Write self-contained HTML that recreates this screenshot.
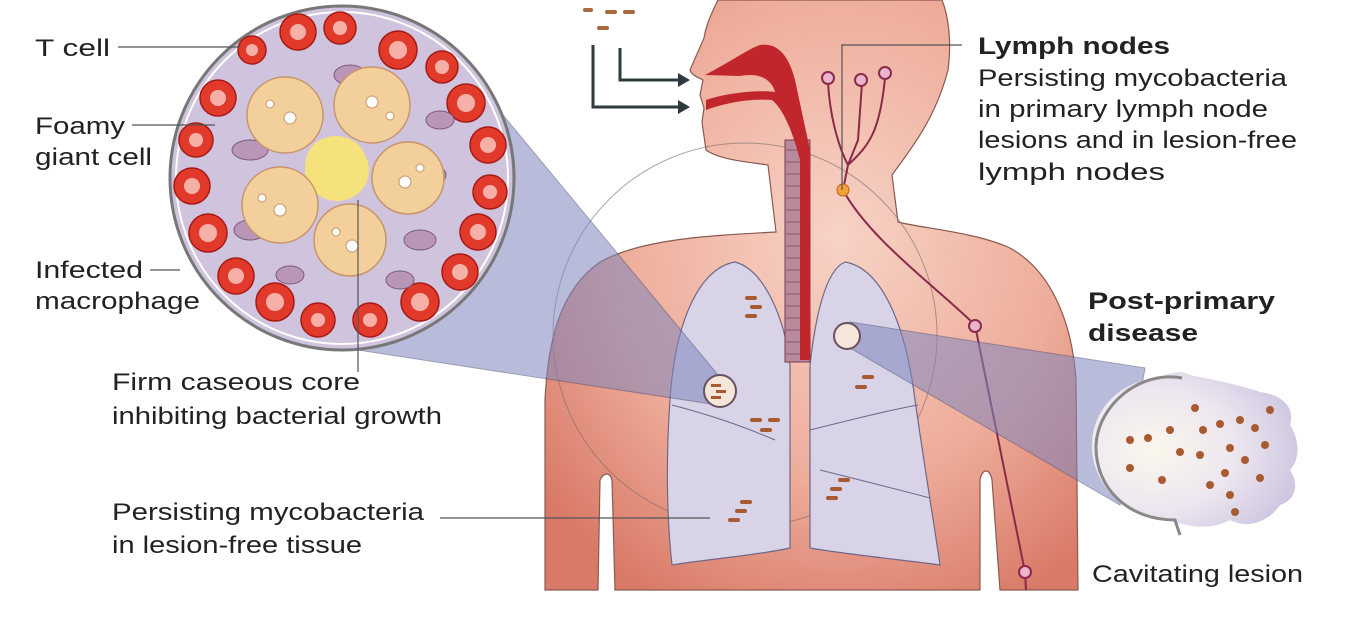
<!DOCTYPE html>
<html><head><meta charset="utf-8"><style>html,body{margin:0;padding:0;background:#fff}svg{display:block}text{font-family:"Liberation Sans",sans-serif;fill:#222}</style></head><body>
<svg width="1366" height="620" viewBox="0 0 1366 620" xmlns="http://www.w3.org/2000/svg">
<defs>
<radialGradient id="skin" cx="0.55" cy="0.4" r="0.7"><stop offset="0" stop-color="#f7d3c6"/><stop offset="0.6" stop-color="#eeac9a"/><stop offset="1" stop-color="#d97a68"/></radialGradient>
<radialGradient id="les" cx="0.3" cy="0.5" r="0.8"><stop offset="0" stop-color="#fbf7ec"/><stop offset="0.5" stop-color="#ece6f0"/><stop offset="1" stop-color="#c8bfdc"/></radialGradient>
</defs>
<path d="M718,0 C712,12 706,25 704,38 L690,70 C692,76 700,78 703,80 L700,95 L704,108 L702,122 L706,150 C720,160 748,162 768,165 L776,232 C700,236 640,240 600,262 C560,290 548,340 545,400 L545,590 L598,590 L600,480 C604,472 610,472 612,480 L615,590 L980,590 L980,480 C982,468 990,468 992,480 L1000,590 L1078,590 L1076,380 C1072,320 1050,270 1010,248 C975,232 920,228 898,222 L892,175 C910,150 935,120 948,70 C952,40 948,15 942,0 Z" fill="url(#skin)" stroke="#8a5a50" stroke-width="1.2"/>
<circle cx="745" cy="335" r="192" fill="none" stroke="#7a6a6a" stroke-width="1" opacity="0.6"/>
<path d="M735,262 C700,268 675,320 670,400 C665,470 668,530 672,565 C700,560 760,555 790,548 L790,365 C785,320 765,270 735,262 Z" fill="#d9d3e8" stroke="#6f6888" stroke-width="1.2"/>
<path d="M845,262 C880,268 905,320 915,400 C925,470 935,530 940,565 C905,560 850,555 810,548 L810,365 C815,320 825,270 845,262 Z" fill="#d9d3e8" stroke="#6f6888" stroke-width="1.2"/>
<path d="M672,405 C710,415 740,425 775,440 M810,430 C850,420 890,410 918,405 M820,470 C860,480 900,490 930,498" stroke="#6f6888" fill="none" stroke-width="1"/>
<rect x="785" y="140" width="25" height="222" fill="#b98a9c" stroke="#7a3a50"/>
<g stroke="#7a3a50" stroke-width="1" opacity="0.7">
<path d="M786,150h23M786,162h23M786,174h23M786,186h23M786,198h23M786,210h23M786,222h23M786,234h23M786,246h23M786,258h23M786,270h23M786,282h23M786,294h23M786,306h23M786,318h23M786,330h23M786,342h23M786,354h23"/></g>
<path d="M705,75 C730,62 750,48 760,45 C780,42 790,60 795,80 L810,150 L810,360 L800,360 L800,160 C795,140 785,110 772,100 C745,98 720,105 706,110 L706,100 C730,92 760,90 775,92 C772,80 760,72 740,76 Z" fill="#c0262c"/>
<g stroke="#2d3a3e" stroke-width="3" fill="none"><path d="M593,45 V107 H680"/><path d="M620,48 V80 H680"/></g>
<path d="M690,80 l-12,-7 v14 z M690,107 l-12,-7 v14 z" fill="#2d3a3e"/>
<g fill="#a86a3a"><rect x="583" y="8" width="10" height="4" rx="2"/><rect x="605" y="10" width="12" height="4" rx="2"/><rect x="623" y="10" width="12" height="4" rx="2"/><rect x="597" y="26" width="12" height="4" rx="2"/></g>
<g stroke="#8a2a4a" stroke-width="2" fill="none">
<path d="M828,82 C830,120 840,150 848,165 L843,190 C870,240 940,290 975,325 L1025,572 L1026,590"/>
<path d="M862,83 L858,140 L848,165 M885,78 C880,130 870,145 848,165"/>
</g>
<g fill="#eab4cc" stroke="#8a2a4a" stroke-width="2"><circle cx="828" cy="78" r="6"/><circle cx="861" cy="80" r="6"/><circle cx="885" cy="73" r="6"/><circle cx="975" cy="326" r="6"/><circle cx="1025" cy="572" r="6"/></g>
<circle cx="843" cy="190" r="6" fill="#f3a13a" stroke="#c06010"/>
<path d="M842,190 V45 H962" stroke="#555" stroke-width="1.2" fill="none"/>
<g fill="#a85a30"><rect x="745" y="296" width="12" height="4" rx="2"/><rect x="750" y="305" width="12" height="4" rx="2"/><rect x="745" y="314" width="12" height="4" rx="2"/>
<rect x="750" y="418" width="12" height="4" rx="2"/><rect x="768" y="418" width="12" height="4" rx="2"/><rect x="760" y="428" width="12" height="4" rx="2"/>
<rect x="740" y="500" width="12" height="4" rx="2"/><rect x="735" y="509" width="12" height="4" rx="2"/><rect x="728" y="518" width="12" height="4" rx="2"/>
<rect x="838" y="478" width="12" height="4" rx="2"/><rect x="830" y="487" width="12" height="4" rx="2"/><rect x="826" y="496" width="12" height="4" rx="2"/>
<rect x="862" y="375" width="12" height="4" rx="2"/><rect x="855" y="385" width="12" height="4" rx="2"/></g>
<path d="M445,45 L718,375 L718,405 L345,348 Z" fill="#7f86bd" opacity="0.55" stroke="#4a4e78" stroke-width="1"/>
<path d="M850,322 L1145,368 L1120,505 L850,348 Z" fill="#7f86bd" opacity="0.55" stroke="#4a4e78" stroke-width="1"/>
<circle cx="720" cy="391" r="16" fill="#f4e6d8" stroke="#6a5060" stroke-width="2"/>
<g fill="#a85a30"><rect x="711" y="384" width="10" height="3"/><rect x="716" y="390" width="10" height="3"/><rect x="711" y="396" width="10" height="3"/></g>
<circle cx="847" cy="336" r="13" fill="#f4e6d8" stroke="#6a5060" stroke-width="2"/>
<path d="M1190,375 C1215,380 1240,385 1260,392 C1285,395 1295,410 1290,425 C1300,440 1300,460 1290,470 C1300,485 1295,500 1280,505 C1270,520 1250,530 1230,520 C1215,528 1195,530 1170,520 C1130,520 1095,490 1092,450 C1090,410 1120,380 1160,378 C1170,372 1182,370 1190,375 Z" fill="url(#les)"/>
<path d="M1182,378 C1140,370 1098,405 1096,445 C1095,490 1130,520 1175,520 L1180,535" fill="none" stroke="#888" stroke-width="3"/>
<g fill="#a85a30">
<circle cx="1170" cy="430" r="4"/><circle cx="1148" cy="438" r="4"/><circle cx="1180" cy="452" r="4"/><circle cx="1195" cy="408" r="4"/><circle cx="1203" cy="430" r="4"/><circle cx="1220" cy="424" r="4"/><circle cx="1240" cy="420" r="4"/><circle cx="1255" cy="428" r="4"/><circle cx="1265" cy="445" r="4"/><circle cx="1230" cy="448" r="4"/><circle cx="1245" cy="460" r="4"/><circle cx="1225" cy="473" r="4"/><circle cx="1210" cy="485" r="4"/><circle cx="1230" cy="495" r="4"/><circle cx="1260" cy="478" r="4"/><circle cx="1162" cy="480" r="4"/><circle cx="1130" cy="468" r="4"/><circle cx="1130" cy="440" r="4"/><circle cx="1200" cy="455" r="4"/><circle cx="1235" cy="512" r="4"/><circle cx="1270" cy="410" r="4"/></g>
<circle cx="342" cy="178" r="172" fill="#cfc3dd" stroke="#777" stroke-width="3"/>
<circle cx="342" cy="178" r="166" fill="none" stroke="#fff" stroke-width="2"/>
<g fill="#e23a2a" stroke="#a61a15" stroke-width="1.5">
<circle cx="298" cy="32" r="18"/><circle cx="340" cy="28" r="16"/><circle cx="398" cy="50" r="19"/><circle cx="442" cy="67" r="16"/><circle cx="466" cy="103" r="19"/><circle cx="488" cy="145" r="18"/><circle cx="490" cy="192" r="17"/><circle cx="478" cy="232" r="18"/><circle cx="460" cy="272" r="18"/><circle cx="420" cy="302" r="19"/><circle cx="370" cy="320" r="17"/><circle cx="318" cy="320" r="17"/><circle cx="275" cy="302" r="19"/><circle cx="236" cy="276" r="18"/><circle cx="208" cy="233" r="19"/><circle cx="192" cy="186" r="18"/><circle cx="196" cy="140" r="17"/><circle cx="218" cy="98" r="18"/><circle cx="252" cy="50" r="14"/></g>
<g fill="#f6b0a8"><circle cx="298" cy="32" r="8"/><circle cx="340" cy="28" r="7"/><circle cx="398" cy="50" r="9"/><circle cx="442" cy="67" r="7"/><circle cx="466" cy="103" r="9"/><circle cx="488" cy="145" r="8"/><circle cx="490" cy="192" r="7"/><circle cx="478" cy="232" r="8"/><circle cx="460" cy="272" r="8"/><circle cx="420" cy="302" r="9"/><circle cx="370" cy="320" r="7"/><circle cx="318" cy="320" r="7"/><circle cx="275" cy="302" r="9"/><circle cx="236" cy="276" r="8"/><circle cx="208" cy="233" r="9"/><circle cx="192" cy="186" r="8"/><circle cx="196" cy="140" r="7"/><circle cx="218" cy="98" r="8"/><circle cx="252" cy="50" r="6"/></g>
<g fill="#b995b8" stroke="#7d5a7d"><ellipse cx="250" cy="150" rx="18" ry="10"/><ellipse cx="430" cy="175" rx="16" ry="10"/><ellipse cx="250" cy="230" rx="16" ry="10"/><ellipse cx="420" cy="240" rx="16" ry="10"/><ellipse cx="350" cy="75" rx="16" ry="10"/><ellipse cx="290" cy="275" rx="14" ry="9"/><ellipse cx="400" cy="280" rx="14" ry="9"/><ellipse cx="440" cy="120" rx="14" ry="9"/></g>
<path d="M320,140 C340,130 360,140 365,155 C375,175 365,195 345,200 C325,205 305,190 305,170 C305,155 310,145 320,140 Z" fill="#f5e27a"/>
<g fill="#f3cf9c" stroke="#c7956a" stroke-width="1.5"><circle cx="285" cy="115" r="38"/><circle cx="372" cy="105" r="38"/><circle cx="408" cy="178" r="36"/><circle cx="280" cy="205" r="38"/><circle cx="350" cy="240" r="36"/></g>
<g fill="#fff" stroke="#c7956a"><circle cx="290" cy="118" r="6"/><circle cx="270" cy="104" r="4"/><circle cx="372" cy="102" r="6"/><circle cx="390" cy="116" r="4"/><circle cx="405" cy="182" r="6"/><circle cx="420" cy="168" r="4"/><circle cx="280" cy="210" r="6"/><circle cx="262" cy="198" r="4"/><circle cx="352" cy="246" r="6"/><circle cx="336" cy="232" r="4"/></g>
<g stroke="#555" stroke-width="1.2"><line x1="118" y1="47" x2="240" y2="47"/><line x1="132" y1="125" x2="215" y2="125"/><line x1="150" y1="270" x2="180" y2="270"/><line x1="358" y1="200" x2="358" y2="372"/><line x1="440" y1="518" x2="710" y2="518"/></g>
<g font-size="24">
<text x="35" y="56" textLength="75" lengthAdjust="spacingAndGlyphs">T cell</text>
<text x="35" y="134" textLength="90" lengthAdjust="spacingAndGlyphs">Foamy</text><text x="35" y="165" textLength="117" lengthAdjust="spacingAndGlyphs">giant cell</text>
<text x="35" y="278" textLength="108" lengthAdjust="spacingAndGlyphs">Infected</text><text x="35" y="309" textLength="165" lengthAdjust="spacingAndGlyphs">macrophage</text>
<text x="112" y="390" textLength="248" lengthAdjust="spacingAndGlyphs">Firm caseous core</text><text x="112" y="424" textLength="330" lengthAdjust="spacingAndGlyphs">inhibiting bacterial growth</text>
<text x="112" y="520" textLength="312" lengthAdjust="spacingAndGlyphs">Persisting mycobacteria</text><text x="112" y="553" textLength="250" lengthAdjust="spacingAndGlyphs">in lesion-free tissue</text>
<text x="978" y="54" font-weight="bold" textLength="192" lengthAdjust="spacingAndGlyphs">Lymph nodes</text>
<text x="978" y="86" textLength="309" lengthAdjust="spacingAndGlyphs">Persisting mycobacteria</text><text x="978" y="117" textLength="290" lengthAdjust="spacingAndGlyphs">in primary lymph node</text><text x="978" y="148" textLength="319" lengthAdjust="spacingAndGlyphs">lesions and in lesion-free</text><text x="978" y="180" textLength="187" lengthAdjust="spacingAndGlyphs">lymph nodes</text>
<text x="1088" y="309" font-weight="bold" textLength="187" lengthAdjust="spacingAndGlyphs">Post-primary</text><text x="1088" y="341" font-weight="bold" textLength="110" lengthAdjust="spacingAndGlyphs">disease</text>
<text x="1092" y="582" textLength="211" lengthAdjust="spacingAndGlyphs">Cavitating lesion</text>
</g>
</svg>
</body></html>
